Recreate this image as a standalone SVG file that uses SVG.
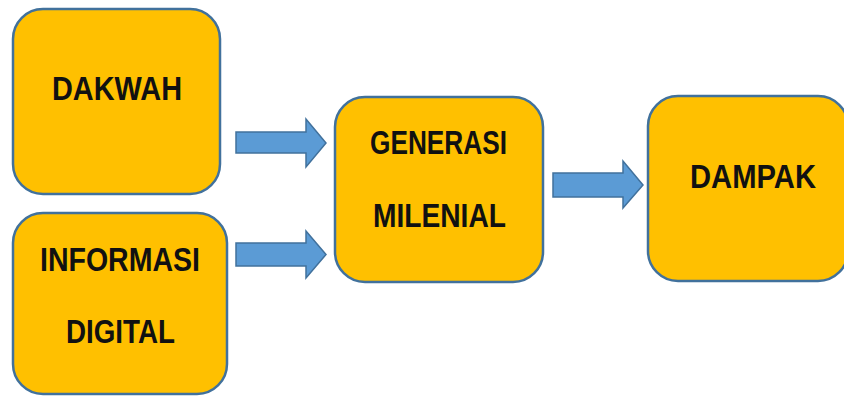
<svg xmlns="http://www.w3.org/2000/svg" width="844" height="396" viewBox="0 0 844 396">
<style>
.box{fill:#FFC000;stroke:#41719C;stroke-width:2.5}
.arrow{fill:#5B9BD5;stroke:#41719C;stroke-width:1.5}
.lbl{font-family:"Liberation Sans",Arial,sans-serif;font-weight:bold;font-size:34px;fill:#111;text-anchor:middle}
</style>
<rect width="844" height="396" fill="#ffffff"/>
<g id="dakwah">
<rect class="box" x="13" y="9" width="207" height="185" rx="30"/>
<text class="lbl" x="117" y="100" textLength="130" lengthAdjust="spacingAndGlyphs">DAKWAH</text>
</g>
<g id="informasi-digital">
<rect class="box" x="13" y="213" width="214" height="181" rx="30"/>
<text class="lbl" x="120" y="271" textLength="160" lengthAdjust="spacingAndGlyphs">INFORMASI</text>
<text class="lbl" x="120.5" y="343" textLength="109" lengthAdjust="spacingAndGlyphs">DIGITAL</text>
</g>
<g id="generasi-milenial">
<rect class="box" x="335" y="97" width="208" height="185" rx="30"/>
<text class="lbl" x="438.5" y="154" textLength="137" lengthAdjust="spacingAndGlyphs">GENERASI</text>
<text class="lbl" x="439.5" y="227" textLength="133" lengthAdjust="spacingAndGlyphs">MILENIAL</text>
</g>
<g id="dampak">
<rect class="box" x="648" y="96" width="200" height="185" rx="30"/>
<text class="lbl" x="753" y="188" textLength="126" lengthAdjust="spacingAndGlyphs">DAMPAK</text>
</g>
<g id="connectors">
<polygon class="arrow" points="236,132 306,132 306,119 326,143 306,167 306,153 236,153"/>
<polygon class="arrow" points="236,243 306,243 306,231 326,254.5 306,278 306,266 236,266"/>
<polygon class="arrow" points="553,173 623,173 623,161 643,185 623,208 623,197 553,197"/>
</g>
</svg>
